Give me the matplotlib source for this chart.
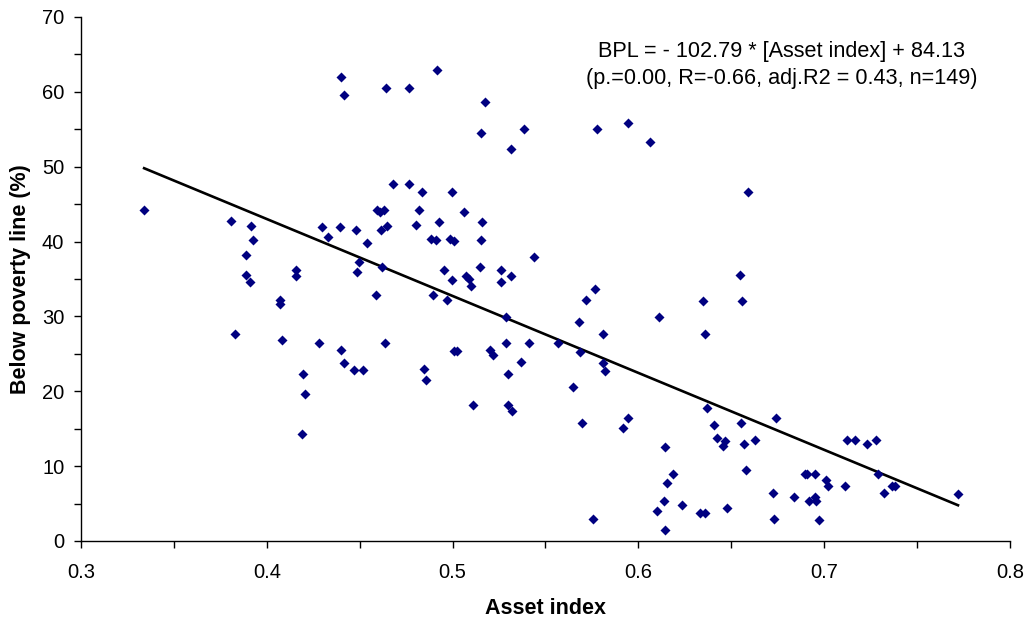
import numpy as np
import matplotlib.pyplot as plt
from matplotlib.ticker import MultipleLocator

plt.rcParams['font.family'] = ['Liberation Sans', 'DejaVu Sans']

# asset index / below poverty line (%)
asset_index = [
    0.334, 0.381, 0.3828, 0.3886, 0.3887, 0.391, 0.3917, 0.3925, 0.407, 0.407,
    0.4083, 0.4155, 0.4159, 0.4188, 0.4193, 0.4204, 0.4283, 0.4297, 0.4331, 0.4394,
    0.4398, 0.440, 0.4414, 0.4414, 0.447, 0.4478, 0.4488, 0.4495, 0.452, 0.4538,
    0.4586, 0.4595, 0.4608, 0.4613, 0.4622, 0.463, 0.4635, 0.4644, 0.4649, 0.468,
    0.4764, 0.4764, 0.4802, 0.4818, 0.4834, 0.4845, 0.4856, 0.4883, 0.4892, 0.491,
    0.4915, 0.4927, 0.4954, 0.497, 0.4987, 0.4996, 0.4997, 0.5005, 0.5005, 0.5023,
    0.5064, 0.5071, 0.5089, 0.5098, 0.511, 0.5148, 0.5152, 0.5152, 0.5156, 0.5173,
    0.5199, 0.522, 0.5258, 0.5261, 0.5287, 0.529, 0.5297, 0.530, 0.5312, 0.5314,
    0.5318, 0.5366, 0.5387, 0.541, 0.5436, 0.5568, 0.5648, 0.5678, 0.5687, 0.5694,
    0.5716, 0.5757, 0.5768, 0.5775, 0.581, 0.581, 0.582, 0.5917, 0.5942, 0.5944,
    0.6064, 0.6102, 0.6113, 0.6136, 0.6145, 0.6145, 0.6152, 0.6187, 0.6233, 0.633,
    0.6346, 0.6357, 0.636, 0.6368, 0.6407, 0.6422, 0.6458, 0.6468, 0.6476, 0.6547,
    0.655, 0.656, 0.657, 0.658, 0.659, 0.663, 0.6725, 0.673, 0.674, 0.684,
    0.6895, 0.6905, 0.692, 0.695, 0.695, 0.6955, 0.697, 0.701, 0.702, 0.711,
    0.7124, 0.7165, 0.723, 0.728, 0.729, 0.732, 0.7365, 0.738, 0.772,
]
below_poverty = [
    44.2, 42.75, 27.6, 38.25, 35.6, 34.6, 42.1, 40.25, 32.2, 31.6,
    26.9, 35.4, 36.2, 14.3, 22.35, 19.6, 26.5, 42.0, 40.6, 42.0,
    25.5, 62.0, 59.6, 23.8, 22.9, 41.6, 36.0, 37.3, 22.9, 39.85,
    32.9, 44.2, 44.0, 41.6, 36.6, 44.2, 26.5, 60.5, 42.1, 47.7,
    60.5, 47.7, 42.2, 44.2, 46.6, 23.0, 21.5, 40.3, 32.8, 40.25,
    62.9, 42.6, 36.2, 32.15, 40.3, 34.8, 46.6, 40.1, 25.4, 25.4,
    44.0, 35.4, 34.95, 34.0, 18.2, 36.6, 54.5, 40.25, 42.6, 58.7,
    25.5, 24.8, 36.2, 34.6, 29.96, 26.5, 22.35, 18.2, 52.4, 35.4,
    17.4, 23.95, 55.0, 26.5, 38.0, 26.4, 20.6, 29.3, 25.3, 15.7,
    32.2, 2.9, 33.6, 55.0, 27.7, 23.8, 22.75, 15.1, 55.9, 16.4,
    53.3, 4.05, 29.96, 5.3, 12.5, 1.47, 7.7, 9.0, 4.85, 3.7,
    32.06, 3.7, 27.7, 17.8, 15.45, 13.76, 12.7, 13.4, 4.4, 35.5,
    15.7, 32.06, 12.9, 9.5, 46.6, 13.45, 6.4, 3.0, 16.4, 5.9,
    9.0, 9.0, 5.3, 8.9, 5.9, 5.3, 2.8, 8.1, 7.4, 7.4,
    13.45, 13.45, 12.9, 13.45, 8.9, 6.4, 7.4, 7.4, 6.3,
]

# regression line as printed on the chart
slope = -102.79
intercept = 84.13

fig = plt.figure(figsize=(10.3, 6.25), dpi=100)
ax = fig.add_axes([0.0786, 0.1344, 0.902, 0.8384])

ax.scatter(asset_index, below_poverty, marker='D', s=26, color='#000080',
           linewidths=0, zorder=3)

x_fit = np.array([min(asset_index), max(asset_index)])
ax.plot(x_fit, slope * x_fit + intercept, color='black', lw=1.9, zorder=2)

ax.set_xlim(0.3, 0.8)
ax.set_ylim(0, 70)
ax.xaxis.set_major_locator(MultipleLocator(0.1))
ax.xaxis.set_minor_locator(MultipleLocator(0.05))
ax.yaxis.set_major_locator(MultipleLocator(10))
ax.yaxis.set_minor_locator(MultipleLocator(5))
ax.xaxis.set_major_formatter(plt.FuncFormatter(lambda v, p: '%g' % round(v, 2)))

for s in ['top', 'right']:
    ax.spines[s].set_visible(False)
for s in ['left', 'bottom']:
    ax.spines[s].set_linewidth(1.0)

ax.tick_params(which='both', direction='out', length=5, width=1, color='black')
ax.tick_params(axis='x', which='major', labelsize=14.5, pad=11)
ax.tick_params(axis='y', which='major', labelsize=14.5, pad=7)

ax.set_xlabel('Asset index', fontsize=15.5, fontweight='bold', labelpad=11)
ax.set_ylabel('Below poverty line (%)', fontsize=15.5, fontweight='bold', labelpad=8)

ax.text(0.677, 63.6,
        'BPL = - 102.79 * [Asset index] + 84.13\n'
        '(p.=0.00, R=-0.66, adj.R2 = 0.43, n=149)',
        ha='center', va='center', fontsize=15.6, linespacing=1.4)

plt.savefig('out.png', dpi=100)
plt.close()
